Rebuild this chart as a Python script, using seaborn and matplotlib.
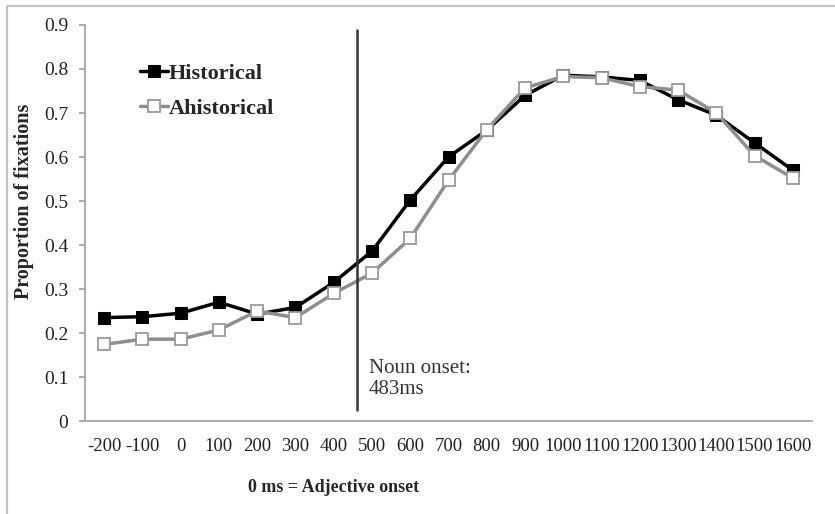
"""Proportion of fixations over time for historical vs ahistorical conditions."""

import matplotlib
matplotlib.use("Agg")
import matplotlib.pyplot as plt
from matplotlib.lines import Line2D
import pandas as pd
import seaborn as sns

# time bins (ms, relative to adjective onset)
TIME_MS = [-200, -100, 0, 100, 200, 300, 400, 500, 600, 700, 800,
           900, 1000, 1100, 1200, 1300, 1400, 1500, 1600]

HISTORICAL = [0.235, 0.237, 0.245, 0.270, 0.243, 0.258, 0.315, 0.386, 0.502,
              0.600, 0.661, 0.740, 0.786, 0.782, 0.774, 0.730, 0.695, 0.632, 0.570]
AHISTORICAL = [0.174, 0.186, 0.186, 0.207, 0.250, 0.235, 0.290, 0.336, 0.415,
               0.547, 0.662, 0.757, 0.783, 0.780, 0.760, 0.752, 0.700, 0.603, 0.552]

Y_TICKS = [0, 0.1, 0.2, 0.3, 0.4, 0.5, 0.6, 0.7, 0.8, 0.9]
Y_TICK_LABELS = ["0", "0.1", "0.2", "0.3", "0.4", "0.5", "0.6", "0.7", "0.8", "0.9"]

NOUN_LINE_X = 460  # where the onset marker is drawn
NOUN_LABEL = "Noun onset:\n483ms"


def main() -> None:
    sns.set_style("white")
    plt.rcParams["font.family"] = ["Liberation Serif", "DejaVu Serif"]

    df = pd.DataFrame({"time": TIME_MS, "Historical": HISTORICAL,
                       "Ahistorical": AHISTORICAL})

    fig = plt.figure(figsize=(8.35, 5.14), dpi=100)
    W, H = 835, 514
    ax = fig.add_axes([85 / W, (H - 421) / H, (812 - 85) / W, (421 - 25) / H])

    sns.lineplot(data=df, x="time", y="Historical", ax=ax, color="black",
                 linewidth=2.5, marker="s", markersize=8, markerfacecolor="black",
                 markeredgecolor="black", label="Historical")
    sns.lineplot(data=df, x="time", y="Ahistorical", ax=ax, color="#8e8e8e",
                 linewidth=2.5, marker="s", markersize=8, markerfacecolor="white",
                 markeredgecolor="#9a9a9a", markeredgewidth=1.3, label="Ahistorical")

    ax.axvline(NOUN_LINE_X, ymin=(421 - 410) / 396, ymax=(421 - 30) / 396,
               color="#333333", linewidth=1.8)
    ax.text(NOUN_LINE_X + 32, 0.142, NOUN_LABEL, fontsize=15, color="#333333",
            va="top", ha="left", linespacing=1.15)

    ax.set_xlim(TIME_MS[0] - 50, TIME_MS[-1] + 50)
    ax.set_ylim(0, 0.9)
    ax.set_xticks(TIME_MS)
    ax.set_xticklabels([str(t) for t in TIME_MS], fontsize=13.5)
    ax.set_yticks(Y_TICKS)
    ax.set_yticklabels(Y_TICK_LABELS, fontsize=14)
    ax.tick_params(axis="x", length=0, pad=12, colors="#222222")
    ax.tick_params(axis="y", length=4, width=1.2, pad=8, color="#a0a0a0",
                   labelcolor="#222222", direction="out", left=True)

    for side in ["top", "right"]:
        ax.spines[side].set_visible(False)
    for side in ["left", "bottom"]:
        ax.spines[side].set_color("#a8a8a8")
        ax.spines[side].set_linewidth(1.3)

    ax.set_xlabel("")
    ax.set_ylabel("Proportion of fixations", fontsize=14.5, fontweight="bold")
    ax.yaxis.set_label_coords(-51 / 727, (421 - 201) / 396)

    fig.text(334 / W, 1 - 488 / H, "0 ms = Adjective onset", fontsize=13,
             fontweight="bold", ha="center", va="center")

    ax.legend(loc="center left", bbox_to_anchor=(131 / W, 1 - 91 / H),
              bbox_transform=fig.transFigure, frameon=False,
              prop={"weight": "bold", "size": 16}, handlelength=1.25,
              handletextpad=0.05, labelspacing=0.65, borderaxespad=0)

    # light frame around the chart area
    fig.add_artist(Line2D([7 / W, 7 / W], [0, 1 - 6 / H], color="#c4c4c4",
                          linewidth=1.6, transform=fig.transFigure))
    fig.add_artist(Line2D([7 / W, 1], [1 - 6 / H, 1 - 6 / H], color="#c4c4c4",
                          linewidth=1.6, transform=fig.transFigure))

    fig.savefig("out.png", dpi=100, facecolor="white")
    plt.close(fig)


if __name__ == "__main__":
    main()
